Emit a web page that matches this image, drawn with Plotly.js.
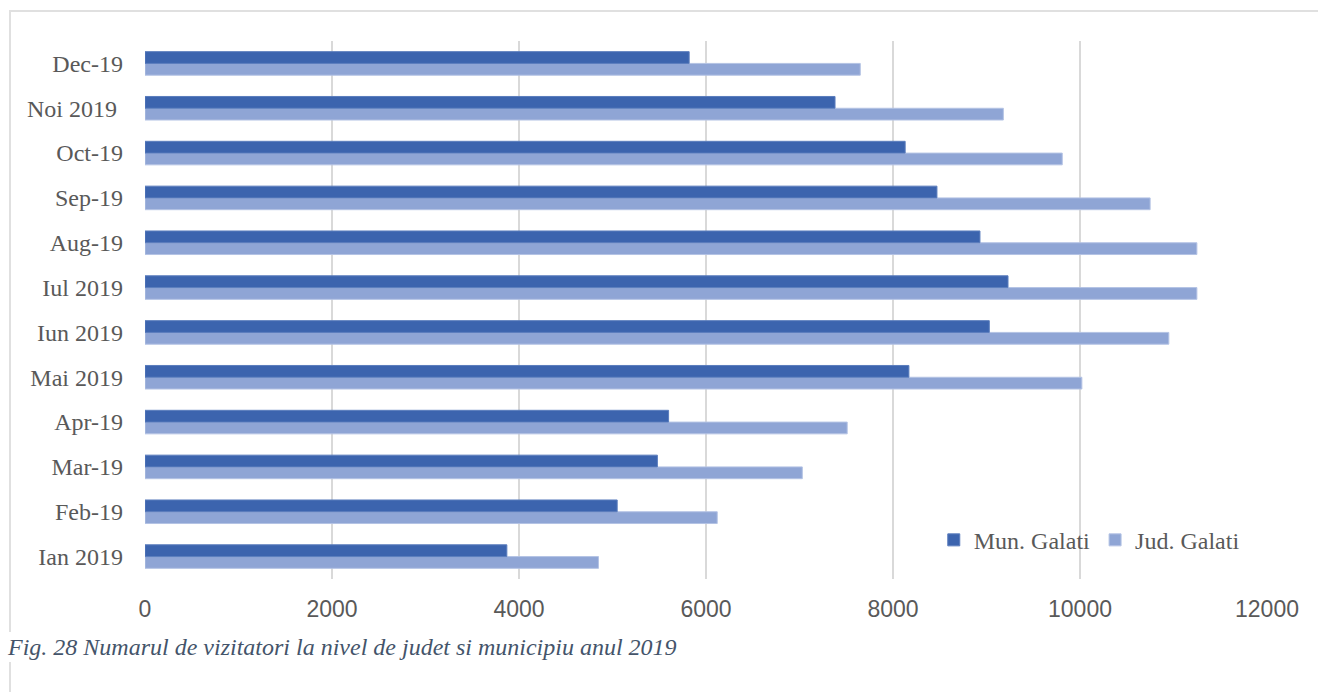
<!DOCTYPE html>
<html>
<head>
<meta charset="utf-8">
<script src="https://cdn.plot.ly/plotly-3.0.1.min.js"></script>
<style>
html,body{margin:0;padding:0;background:#fff;}
#wrap{position:relative;width:1318px;height:692px;overflow:hidden;}
#frame{position:absolute;left:9px;top:10px;width:1400px;height:700px;border:2px solid #e0e0e0;box-sizing:border-box;}
#chart{position:absolute;left:0;top:0;width:1318px;height:692px;}
#cap{position:absolute;left:8px;top:632px;font-family:"Liberation Serif","DejaVu Serif",serif;font-style:italic;font-size:24px;line-height:30px;color:#44546A;white-space:nowrap;background:#fff;padding-right:4px;}
</style>
</head>
<body>
<div id="wrap">
<div id="frame"></div>
<div id="chart"></div>
<div id="cap">Fig. 28 Numarul de vizitatori la nivel de judet si municipiu anul 2019</div>
</div>
<script>
const categories = ["Ian 2019","Feb-19","Mar-19","Apr-19","Mai 2019","Iun 2019","Iul 2019","Aug-19","Sep-19","Oct-19","Noi 2019\u00a0","Dec-19"];
const munGalati = [3870, 5050, 5480, 5600, 8170, 9030, 9230, 8930, 8470, 8130, 7380, 5820];
const judGalati = [4850, 6120, 7030, 7510, 10020, 10950, 11250, 11250, 10750, 9810, 9180, 7650];
const xTicks = [0, 2000, 4000, 6000, 8000, 10000, 12000];

const traces = [
  {type:'bar', orientation:'h', name:'Jud. Galati', y:categories, x:judGalati,
   marker:{color:'#8FA5D5', line:{color:'#B4C3E4', width:1}}, legendrank:2, hoverinfo:'x+name'},
  {type:'bar', orientation:'h', name:'Mun. Galati', y:categories, x:munGalati,
   marker:{color:'#3C64AE', line:{color:'#5B7DBD', width:1}}, legendrank:1, hoverinfo:'x+name'}
];

const layout = {
  width:1318, height:692,
  paper_bgcolor:'rgba(0,0,0,0)', plot_bgcolor:'rgba(0,0,0,0)',
  margin:{l:145, r:51, t:41, b:113},
  barmode:'group', bargap:0.475, bargroupgap:0,
  showlegend:true,
  legend:{orientation:'h', x:0.703, y:0.072, xanchor:'left', yanchor:'middle',
          bgcolor:'rgba(0,0,0,0)', font:{family:'"Liberation Serif", serif', size:24, color:'#595959'},
          itemwidth:30, tracegroupgap:0},
  xaxis:{range:[0,12000], tickvals:xTicks, ticktext:xTicks.map(String), showgrid:true, gridcolor:'#D9D9D9', gridwidth:2,
         zeroline:false, showline:false, ticks:'', ticklabelstandoff:14,
         tickfont:{family:'"Liberation Sans", Arial, sans-serif', size:23, color:'#595959'}, fixedrange:true},
  yaxis:{type:'category', categoryorder:'array', categoryarray:categories, showgrid:false, zeroline:false,
         showline:false, ticks:'', ticklabelstandoff:21,
         tickfont:{family:'"Liberation Serif", serif', size:24, color:'#595959'}, fixedrange:true}
};

Plotly.newPlot('chart', traces, layout, {displayModeBar:false, staticPlot:true});
</script>
</body>
</html>
